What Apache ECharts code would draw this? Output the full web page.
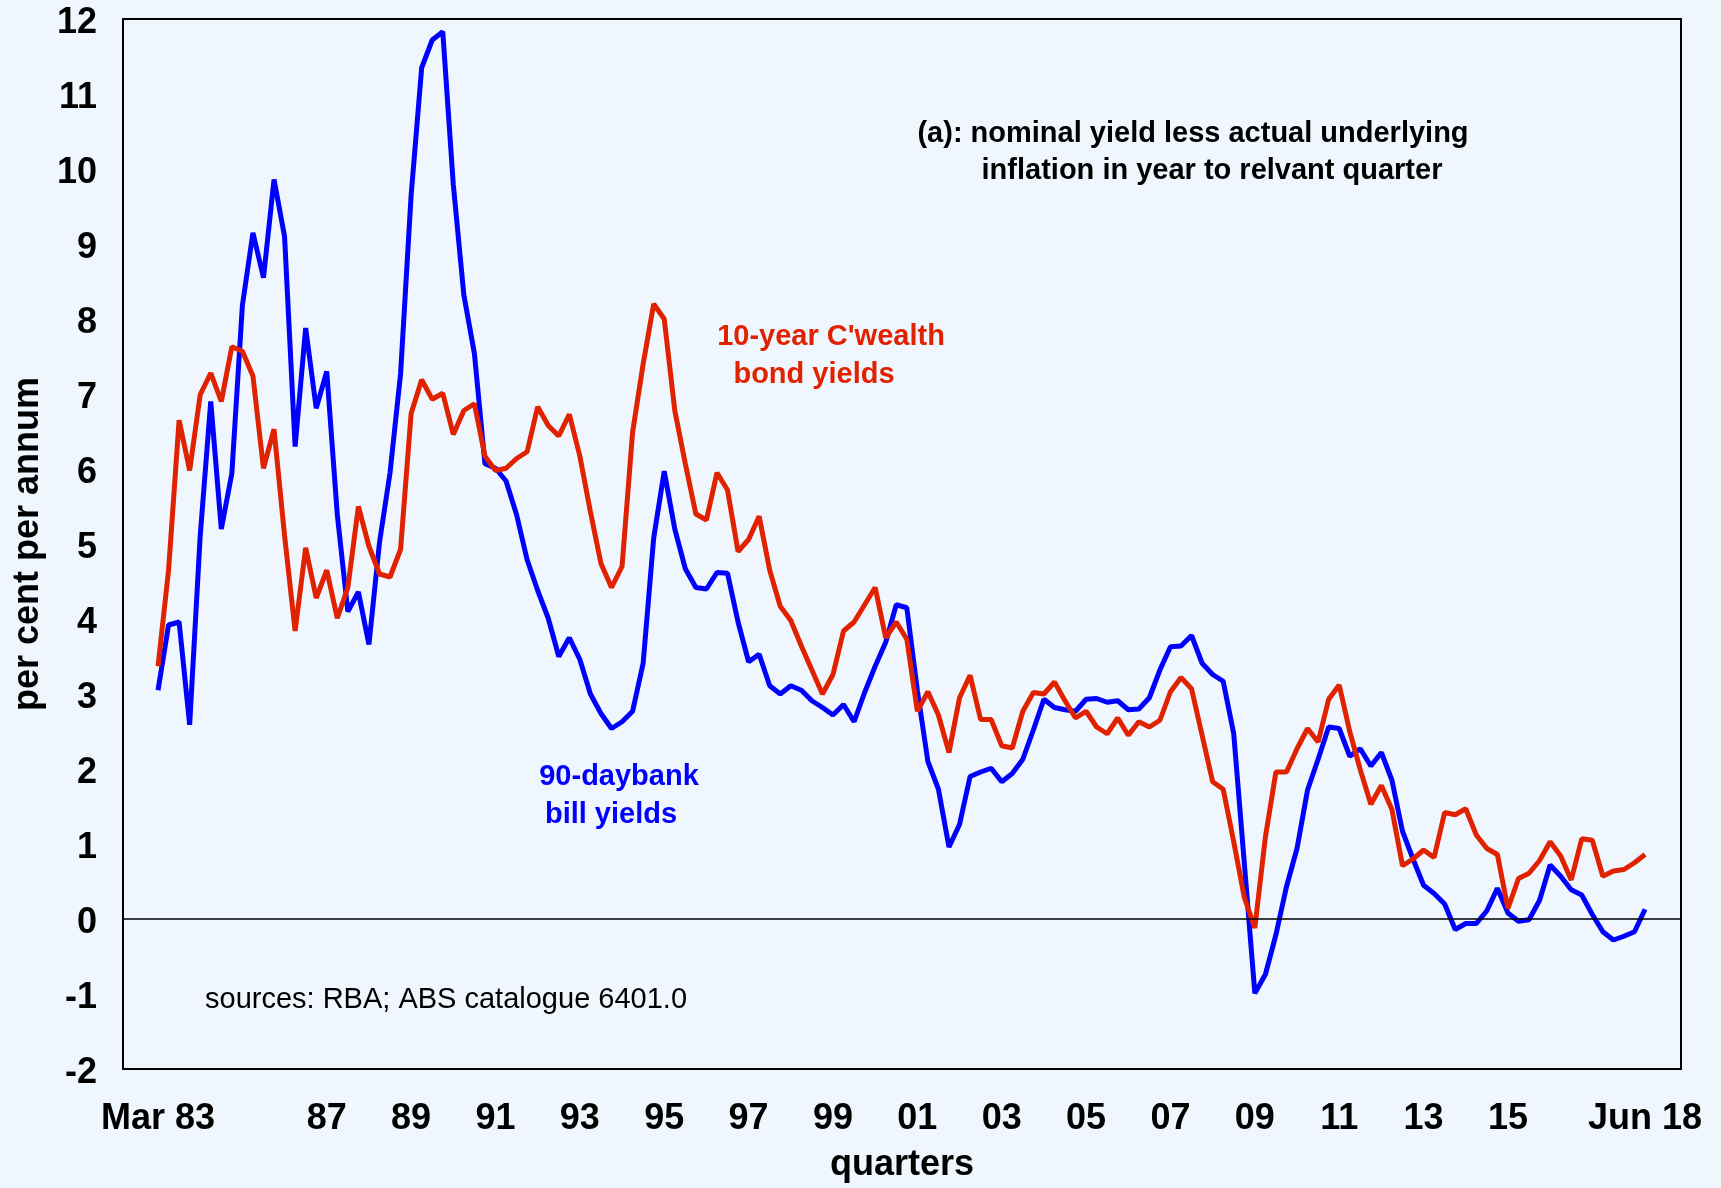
<!DOCTYPE html>
<html>
<head>
<meta charset="utf-8">
<script src="https://cdn.jsdelivr.net/npm/echarts@6/dist/echarts.min.js"></script>
<style>
html,body{margin:0;padding:0;background:#f0f6fd;}
#chart{width:1721px;height:1188px;}
</style>
</head>
<body>
<div id="chart"></div>
<script>
// Quarters Mar 1983 .. Jun 2018
const quarterMonths = ['Mar', 'Jun', 'Sep', 'Dec'];
const quarters = [];
for (let y = 1983; y <= 2018; y++) {
  for (let q = 0; q < 4; q++) {
    if (y === 2018 && q > 1) break;
    quarters.push(quarterMonths[q] + '-' + String(y).slice(2));
  }
}

// 90-day bank bill real yields (per cent per annum)
const billYields = [
  3.05, 3.92, 3.96, 2.59, 5.11, 6.90, 5.20, 5.94, 8.18, 9.15,
  8.55, 9.86, 9.10, 6.30, 7.88, 6.81, 7.30, 5.39, 4.10, 4.36,
  3.66, 5.02, 5.95, 7.27, 9.65, 11.35, 11.72, 11.83, 9.79, 8.32,
  7.54, 6.07, 6.01, 5.84, 5.39, 4.79, 4.38, 4.01, 3.50, 3.75,
  3.46, 3.00, 2.74, 2.54, 2.63, 2.77, 3.41, 5.08, 5.97, 5.20,
  4.67, 4.42, 4.40, 4.62, 4.61, 3.96, 3.43, 3.53, 3.11, 3.00,
  3.11, 3.05, 2.91, 2.82, 2.72, 2.86, 2.63, 3.02, 3.37, 3.69,
  4.19, 4.15, 3.05, 2.10, 1.73, 0.96, 1.26, 1.90, 1.96, 2.01,
  1.83, 1.94, 2.13, 2.52, 2.93, 2.82, 2.79, 2.77, 2.93, 2.94,
  2.89, 2.91, 2.79, 2.80, 2.95, 3.32, 3.63, 3.64, 3.78, 3.41,
  3.26, 3.17, 2.47, 0.75, -0.99, -0.74, -0.21, 0.43, 0.94, 1.72,
  2.13, 2.56, 2.54, 2.17, 2.27, 2.04, 2.22, 1.85, 1.17, 0.80,
  0.45, 0.34, 0.20, -0.14, -0.06, -0.06, 0.11, 0.41, 0.08, -0.03,
  -0.01, 0.25, 0.72, 0.57, 0.39, 0.32, 0.06, -0.17, -0.28, -0.23,
  -0.17, 0.13
];

// 10-year Commonwealth bond real yields (per cent per annum)
const bondYields = [
  3.37, 4.65, 6.65, 5.98, 6.99, 7.28, 6.90, 7.63, 7.57, 7.24,
  6.01, 6.53, 5.11, 3.84, 4.95, 4.28, 4.65, 4.01, 4.42, 5.50,
  4.97, 4.60, 4.56, 4.93, 6.74, 7.19, 6.93, 7.01, 6.46, 6.78,
  6.87, 6.17, 5.98, 6.01, 6.14, 6.23, 6.83, 6.58, 6.44, 6.73,
  6.17, 5.43, 4.74, 4.42, 4.70, 6.49, 7.40, 8.20, 8.00, 6.78,
  6.07, 5.40, 5.32, 5.95, 5.72, 4.90, 5.06, 5.37, 4.65, 4.17,
  3.98, 3.64, 3.32, 3.00, 3.26, 3.84, 3.96, 4.19, 4.42, 3.75,
  3.96, 3.73, 2.77, 3.03, 2.72, 2.22, 2.95, 3.25, 2.66, 2.66,
  2.31, 2.28, 2.77, 3.02, 3.00, 3.16, 2.91, 2.68, 2.77, 2.56,
  2.47, 2.68, 2.45, 2.63, 2.56, 2.65, 3.03, 3.22, 3.07, 2.45,
  1.83, 1.73, 1.03, 0.29, -0.12, 1.09, 1.96, 1.96, 2.27, 2.54,
  2.36, 2.93, 3.12, 2.50, 1.99, 1.53, 1.78, 1.46, 0.71, 0.80,
  0.92, 0.82, 1.42, 1.39, 1.47, 1.12, 0.94, 0.86, 0.14, 0.54,
  0.61, 0.78, 1.03, 0.84, 0.52, 1.07, 1.05, 0.57, 0.64, 0.66,
  0.75, 0.86
];

// x-axis tick labels
const tickQuarters = ['Mar-83','Mar-87','Mar-89','Mar-91','Mar-93','Mar-95','Mar-97','Mar-99','Mar-01','Mar-03','Mar-05','Mar-07','Mar-09','Mar-11','Mar-13','Mar-15','Jun-18'];
const tickLabels = ['Mar 83','87','89','91','93','95','97','99','01','03','05','07','09','11','13','15','Jun 18'];

// y-axis ticks
const yMin = -2, yMax = 12, yStep = 1;

const tickIdx = tickQuarters.map(q => quarters.indexOf(q));
const labelMap = {};
tickIdx.forEach((ix, k) => { labelMap[ix] = tickLabels[k]; });

const billData = billYields.map((v, i) => [i, v]);
const bondData = bondYields.map((v, i) => [i, v]);

const FONT = '"Liberation Sans", Arial, sans-serif';
const chart = echarts.init(document.getElementById('chart'), null, {renderer: 'canvas'});

chart.setOption({
  backgroundColor: '#f0f6fd',
  animation: false,
  grid: {
    left: 123, top: 19, right: 40, bottom: 118,
    show: true, borderColor: '#000', borderWidth: 2, backgroundColor: 'transparent'
  },
  xAxis: {
    type: 'value',
    min: -3.32, max: 144.41,
    name: 'quarters',
    nameLocation: 'middle',
    nameGap: 78,
    nameTextStyle: {fontFamily: FONT, fontWeight: 'bold', fontSize: 36, color: '#000'},
    axisLine: {show: false},
    axisTick: {show: false},
    splitLine: {show: false},
    axisLabel: {
      customValues: tickIdx,
      formatter: v => labelMap[Math.round(v)] || '',
      fontFamily: FONT, fontWeight: 'bold', fontSize: 36, color: '#000',
      margin: 32
    }
  },
  yAxis: {
    type: 'value',
    min: yMin, max: yMax, interval: yStep,
    name: 'per cent per annum',
    nameLocation: 'middle',
    nameRotate: 90,
    nameGap: 74,
    nameTextStyle: {fontFamily: FONT, fontWeight: 'bold', fontSize: 36, color: '#000'},
    axisLine: {show: false},
    axisTick: {show: false},
    splitLine: {show: false},
    axisLabel: {
      formatter: v => '{a|' + v + '}',
      margin: 26,
      rich: {a: {fontFamily: FONT, fontWeight: 'bold', fontSize: 36, color: '#000', padding: [9, 0, 0, 0]}}
    }
  },
  series: [
    {
      name: 'bond', type: 'line', data: bondData, showSymbol: false, symbol: 'none',
      lineStyle: {color: '#e02200', width: 5}, z: 3,
      markLine: {
        silent: true, symbol: 'none', label: {show: false},
        lineStyle: {color: '#000', width: 1.5, type: 'solid'},
        data: [{yAxis: 0}]
      }
    },
    {
      name: 'bill', type: 'line', data: billData, showSymbol: false, symbol: 'none',
      lineStyle: {color: '#0000ff', width: 5}, z: 2
    }
  ],
  graphic: [
    {type: 'text', x: 1193, y: 134, style: {text: '(a): nominal yield less actual underlying', align: 'center', verticalAlign: 'middle', font: 'bold 29px ' + FONT, fill: '#000'}},
    {type: 'text', x: 1212, y: 171, style: {text: 'inflation in year to relvant quarter', align: 'center', verticalAlign: 'middle', font: 'bold 29px ' + FONT, fill: '#000'}},
    {type: 'text', x: 831, y: 337, style: {text: "10-year C'wealth", align: 'center', verticalAlign: 'middle', font: 'bold 29px ' + FONT, fill: '#e02200'}},
    {type: 'text', x: 814, y: 375, style: {text: 'bond yields', align: 'center', verticalAlign: 'middle', font: 'bold 29px ' + FONT, fill: '#e02200'}},
    {type: 'text', x: 619, y: 777, style: {text: '90-daybank', align: 'center', verticalAlign: 'middle', font: 'bold 29px ' + FONT, fill: '#0000ff'}},
    {type: 'text', x: 611, y: 815, style: {text: 'bill yields', align: 'center', verticalAlign: 'middle', font: 'bold 29px ' + FONT, fill: '#0000ff'}},
    {type: 'text', x: 205, y: 1000, style: {text: 'sources: RBA; ABS catalogue 6401.0', align: 'left', verticalAlign: 'middle', font: '29px ' + FONT, fill: '#000'}}
  ]
});
</script>
</body>
</html>
